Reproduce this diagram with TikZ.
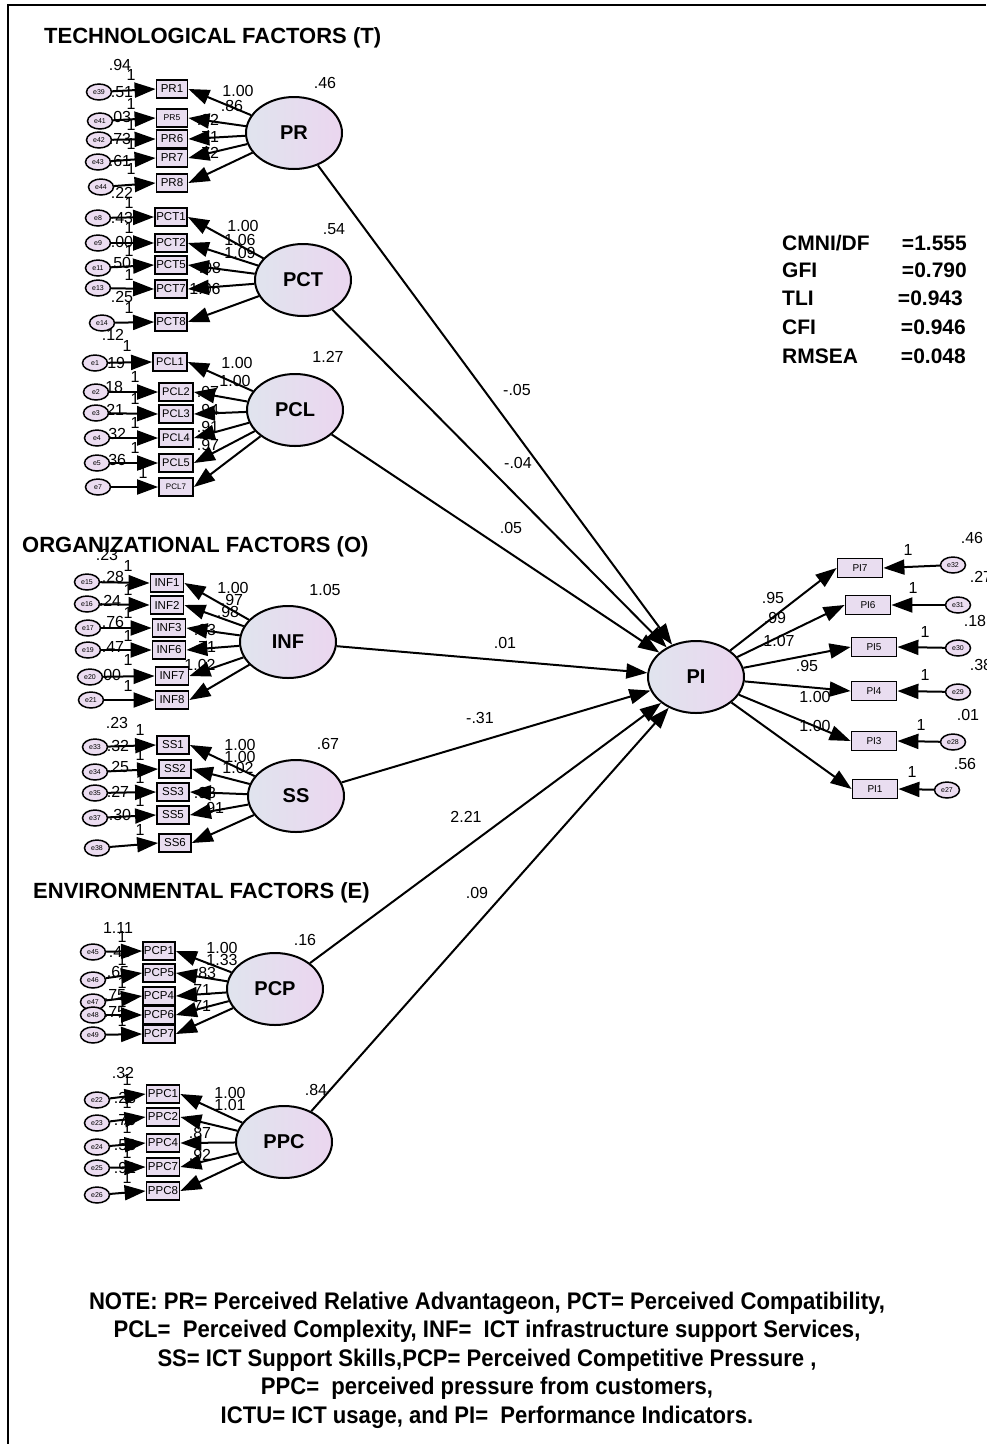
\documentclass[tikz,border=0pt]{standalone}
\usepackage{fontspec}
\setmainfont{Liberation Sans}
\newfontfamily\narrowsans{Liberation Sans}[FakeStretch=0.92]
\usetikzlibrary{shapes.geometric,arrows.meta}
\definecolor{latL}{HTML}{E0E4EE}
\definecolor{latR}{HTML}{EBD6EF}
\definecolor{obsF}{HTML}{E9DDF0}
\definecolor{errF}{HTML}{ECDDF1}
\newcommand\pxsize[1]{\fontsize{#1}{#1}\selectfont}
\tikzset{
  lat/.style={ellipse, draw, line width=2pt, minimum width=96pt, minimum height=72pt,
    inner sep=0pt, left color=latL, right color=latR, font=\bfseries\pxsize{20}},
  obs/.style={rectangle, draw, line width=1.8pt, fill=obsF, minimum width=32pt,
    minimum height=18pt, inner sep=0pt, font=\pxsize{11.5}},
  piobs/.style={obs, minimum width=45pt, minimum height=19pt, font=\pxsize{10}},
  err/.style={ellipse, draw, line width=1.5pt, fill=errF, minimum width=25pt,
    minimum height=16pt, inner sep=0pt, font=\pxsize{7}},
  num/.style={font=\pxsize{16}, inner sep=0pt},
  arr/.style={-{Triangle[length=21pt,width=15pt]}, line width=2pt},
  head/.style={font=\bfseries\pxsize{22}, inner sep=0pt, anchor=west},
  fit/.style={font=\bfseries\pxsize{21}, inner sep=0pt},
}
\begin{document}
\begin{tikzpicture}[x=1pt,y=-1pt]
\useasboundingbox (0,0) rectangle (986,1444);
\fill[white] (0,0) rectangle (986,1444);
% frame
\draw[line width=2pt] (8,1444) -- (8,5) -- (986,5);

% group headings
\node[head] (hT) at (44,38) {TECHNOLOGICAL FACTORS (T)};
\node[head] (hO) at (22,547) {ORGANIZATIONAL FACTORS (O)};
\node[head] (hE) at (33,893) {ENVIRONMENTAL FACTORS (E)};

% latent variables
\node[lat] (PR)  at (294,133) {PR};
\node[lat] (PCT) at (303,280) {PCT};
\node[lat] (PCL) at (295,410) {PCL};
\node[lat] (INF) at (288,642) {INF};
\node[lat] (SS)  at (296,796) {SS};
\node[lat] (PCP) at (275,989) {PCP};
\node[lat] (PPC) at (284,1142) {PPC};
\node[lat] (PI)  at (696,677) {PI};

% latent variances
\node[num] (vPR)  at (325,83)  {.46};
\node[num] (vPCT) at (334,229) {.54};
\node[num] (vPCL) at (328,357) {1.27};
\node[num] (vINF) at (325,590) {1.05};
\node[num] (vSS)  at (328,744) {.67};
\node[num] (vPCP) at (305,940) {.16};
\node[num] (vPPC) at (316,1090) {.84};

% ---------- estimates drawn beneath the arrows ----------
% error variances
\foreach \t/\x/\y [count=\i] in {.94/120/65,.51/122/92,.03/120/117,.73/120/139,.61/120/161,.22/122/193,
  .43/122/218,.00/122/242,.50/120/263,.25/122/297,.12/113/335,
  .19/114/363,.18/112/387,.21/113/410,.32/115/434,.36/115/460,
  .23/107/555,.28/113/577,.24/110/601,.76/113/622,.47/113/647,.00/110/675,
  .23/117/723,.32/118/746,.25/118/767,.27/118/792,.30/120/815,
  1.11/118/928,.48/120/952,.65/118/972,.75/115/995,.75/115/1012,
  .32/123/1073,.28/125/1098,.70/125/1120,.53/125/1145,.91/125/1168}
  \node[num] (ev\i) at (\x,\y) {\t};
% fixed error paths
\foreach \x/\y [count=\i] in {131/75,131/104,131/125,131/144,131/169,
  129/203,129/228,129/251,129/275,129/308,
  127/346,135/377,135/399,135/423,135/448,143/473,
  128/566,128/590,128/613,128/636,128/660,128/686,
  140/730,140/755,140/778,140/801,140/830,
  122/937,122/960,122/983,122/1002,122/1021,
  127/1080,127/1103,127/1128,127/1153,127/1178}
  \node[num] (one\i) at (\x,\y) {1};
% factor loadings
\foreach \t/\x/\y [count=\i] in {1.00/238/91,.86/232/106,.92/208/120,.71/208/137,.72/208/153,
  1.00/243/226,1.06/240/240,1.09/240/253,.98/210/268,1.06/205/289,
  1.00/237/363,1.00/235/381,.97/208/392,.94/208/410,.91/208/427,.97/208/445,
  1.00/233/588,.97/232/600,.98/228/612,.93/205/630,.71/205/647,1.02/200/665,
  1.00/240/745,1.00/240/757,1.02/238/768,.93/205/793,.91/213/808,
  1.00/222/948,1.33/222/960,.83/205/973,.71/200/990,.71/200/1006,
  1.00/230/1093,1.01/230/1105,.87/200/1133,.92/200/1155}
  \node[num] (ld\i) at (\x,\y) {\t};

% ---------- technological block ----------
\foreach \n/\y/\e/\ex/\ey/\f in {PR1/89/e39/99/92/11.5,PR5/118/e41/100/121/8.5,PR6/139/e42/99/140/11.5,
  PR7/158/e43/98/162/11.5,PR8/183/e44/101/187/11.5}{
  \node[obs, minimum width=31pt, font=\pxsize{\f}] (\n) at (172,\y) {\n};
  \node[err] (\e) at (\ex,\ey) {\e};
  \draw[arr] (\e) -- (\n.west);
  \draw[arr] (PR) -- (\n.east);
}
\foreach \n/\y/\e/\ex/\ey in {PCT1/217/e8/98/218,PCT2/243/e9/98/243,PCT5/265/e11/98/268,
  PCT7/289/e13/98/288,PCT8/322/e14/102/323}{
  \node[obs] (\n) at (171,\y) {\n};
  \node[err] (\e) at (\ex,\ey) {\e};
  \draw[arr] (\e) -- (\n.west);
  \draw[arr] (PCT) -- (\n.east);
}
\foreach \n/\x/\y/\e/\ex/\ey/\f in {PCL1/170/362/e1/95/363/11,PCL2/176/392/e2/96/392/11,
  PCL3/176/414/e3/96/413/11,PCL4/176/438/e4/97/438/11,PCL5/176/463/e5/97/463/11,PCL7/176/487/e7/98/487/8}{
  \node[obs, minimum width=34pt, font=\pxsize{\f}] (\n) at (\x,\y) {\n};
  \node[err] (\e) at (\ex,\ey) {\e};
  \draw[arr] (\e) -- (\n.west);
  \draw[arr] (PCL) -- (\n.east);
}

% ---------- organizational block ----------
\foreach \n/\x/\y/\e/\ex/\ey in {INF1/167/583/e15/87/582,INF2/167/605/e16/87/604,
  INF3/169/628/e17/88/628,INF6/169/650/e19/88/650,INF7/172/676/e20/90/677,INF8/172/700/e21/91/700}{
  \node[obs, minimum width=33pt] (\n) at (\x,\y) {\n};
  \node[err] (\e) at (\ex,\ey) {\e};
  \draw[arr] (\e) -- (\n.west);
  \draw[arr] (INF) -- (\n.east);
}
\foreach \n/\x/\y/\e/\ex/\ey in {SS1/173/745/e33/95/747,SS2/175/769/e34/95/772,
  SS3/173/792/e35/95/793,SS5/173/815/e37/95/818,SS6/175/843/e38/97/848}{
  \node[obs] (\n) at (\x,\y) {\n};
  \node[err] (\e) at (\ex,\ey) {\e};
  \draw[arr] (\e) -- (\n.west);
  \draw[arr] (SS) -- (\n.east);
}

% ---------- environmental block ----------
\foreach \n/\y/\e/\ey in {PCP1/951/e45/952,PCP5/973/e46/980,PCP4/996/e47/1002,
  PCP6/1015/e48/1015,PCP7/1034/e49/1035}{
  \node[obs] (\n) at (159,\y) {\n};
  \node[err] (\e) at (93,\ey) {\e};
  \draw[arr] (\e) -- (\n.west);
  \draw[arr] (PCP) -- (\n.east);
}
\foreach \n/\y/\e/\ey in {PPC1/1094/e22/1100,PPC2/1117/e23/1123,PPC4/1143/e24/1147,
  PPC7/1167/e25/1168,PPC8/1191/e26/1195}{
  \node[obs, minimum width=33pt] (\n) at (163,\y) {\n};
  \node[err] (\e) at (97,\ey) {\e};
  \draw[arr] (\e) -- (\n.west);
  \draw[arr] (PPC) -- (\n.east);
}

% ---------- structural paths ----------
\foreach \s/\t/\x/\y in {PR/-.05/517/390,PCT/-.04/518/463,PCL/.05/511/528,INF/.01/505/643,
  SS/-.31/480/718,PCP/2.21/466/817,PPC/.09/477/893}{
  \node[num] (c\s) at (\x,\y) {\t};
  \draw[arr] (\s) -- (PI);
}

% ---------- performance indicators ----------
\foreach \t/\x/\y [count=\i] in {.95/773/598,.99/775/618,1.07/779/641,.95/807/666,1.00/815/697,1.00/815/726}
  \node[num] (pl\i) at (\x,\y) {\t};
\foreach \n/\x/\y/\e/\ex/\ey/\v/\vx/\vy/\ox/\oy in {
  PI7/860/568/e32/953/565/.46/972/538/908/550,
  PI6/868/605/e31/958/605/.27/981/577/913/588,
  PI5/874/647/e30/958/648/.18/975/621/925/632,
  PI4/874/691/e29/958/692/.38/981/665/925/675,
  PI3/874/741/e28/953/742/.01/968/715/921/725,
  PI1/875/789/e27/947/790/.56/965/764/912/772}{
  \node[num] (v\n) at (\vx,\vy) {\v};
  \node[num] (o\n) at (\ox,\oy) {1};
  \node[piobs] (\n) at (\x,\y) {\n};
  \node[err] (\e) at (\ex,\ey) {\e};
  \draw[arr] (\e) -- (\n.east);
  \draw[arr] (PI) -- (\n.west);
}

% ---------- fit indices ----------
\node[fit, anchor=west] (fk1) at (782,243) {CMNI/DF};
\node[fit, anchor=west] (fk2) at (782,270) {GFI};
\node[fit, anchor=west] (fk3) at (782,298) {TLI};
\node[fit, anchor=west] (fk4) at (782,327) {CFI};
\node[fit, anchor=west] (fk5) at (782,356) {RMSEA};
\node[fit, anchor=east] (fv1) at (967,243) {=1.555};
\node[fit, anchor=east] (fv2) at (967,270) {=0.790};
\node[fit, anchor=east] (fv3) at (963,298) {=0.943};
\node[fit, anchor=east] (fv4) at (966,327) {=0.946};
\node[fit, anchor=east] (fv5) at (966,356) {=0.048};

% ---------- note ----------
\node[font=\narrowsans\bfseries\fontsize{24}{28.5}\selectfont, align=center, inner sep=0pt] (note) at (487,1360)
  {NOTE: PR= Perceived Relative Advantageon, PCT= Perceived Compatibility,\\
   PCL=\ \ Perceived Complexity, INF=\ \ ICT infrastructure support Services,\\
   SS= ICT Support Skills,PCP= Perceived Competitive Pressure ,\\
   PPC=\ \ perceived pressure from customers,\\
   ICTU= ICT usage, and PI=\ \ Performance Indicators.};
\end{tikzpicture}
\end{document}
